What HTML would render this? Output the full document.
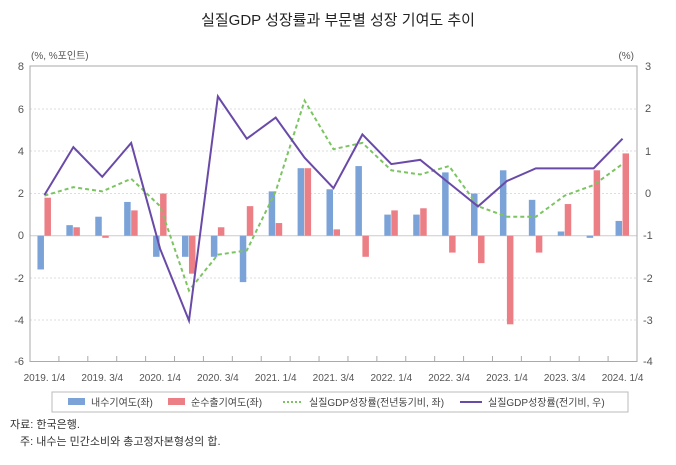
<!DOCTYPE html>
<html><head><meta charset="utf-8"><style>
body{margin:0;background:#fff;}
svg text{font-family:"Liberation Sans","Noto Sans CJK KR",sans-serif;}
</style></head><body>
<svg width="676" height="460" viewBox="0 0 676 460" xmlns="http://www.w3.org/2000/svg">
<text x="338" y="25" font-size="15" text-anchor="middle" fill="#222">실질GDP 성장률과 부문별 성장 기여도 추이</text>
<text x="31" y="59" font-size="10" fill="#555">(%, %포인트)</text>
<text x="634" y="59" font-size="10" fill="#555" text-anchor="end">(%)</text>
<g id="grid" stroke="#ddd" stroke-dasharray="2,2" stroke-width="1">
<line x1="30" x2="637" y1="109" y2="109"/><line x1="30" x2="637" y1="151" y2="151"/><line x1="30" x2="637" y1="193.5" y2="193.5"/>
<line x1="30" x2="637" y1="278" y2="278"/><line x1="30" x2="637" y1="320" y2="320"/>
</g>
<line x1="30" x2="637" y1="235.7" y2="235.7" stroke="#ccc"/>
<rect x="30" y="66" width="607" height="295.5" fill="none" stroke="#aaa"/>
<g font-size="11" fill="#555" text-anchor="end">
<text x="24" y="70">8</text><text x="24" y="113">6</text><text x="24" y="155">4</text><text x="24" y="197">2</text><text x="24" y="239">0</text><text x="24" y="282">-2</text><text x="24" y="324">-4</text><text x="24" y="365">-6</text>
</g>
<g font-size="11" fill="#555">
<text x="645" y="70">3</text><text x="645" y="112">2</text><text x="645" y="155">1</text><text x="645" y="197">0</text><text x="643" y="239">-1</text><text x="643" y="282">-2</text><text x="643" y="324">-3</text><text x="643" y="365">-4</text>
</g>
<g id="ticks" stroke="#aaa"></g>
<g id="bars"></g>
<polyline id="g" fill="none" stroke="#7cc462" stroke-width="2" stroke-dasharray="4,3"/>
<polyline id="p" fill="none" stroke="#6a4aa8" stroke-width="2"/>
<g id="xl" font-size="10" fill="#555" text-anchor="middle"></g>
<rect x="52" y="392" width="576" height="20" fill="#fff" stroke="#bbb"/>
<g font-size="10" fill="#444">
<rect x="68" y="398" width="17" height="7" fill="#7ba3d8"/><text x="91" y="406">내수기여도(좌)</text>
<rect x="168" y="398" width="17" height="7" fill="#ec7f86"/><text x="191" y="406">순수출기여도(좌)</text>
<line x1="283" x2="303" y1="402" y2="402" stroke="#7cc462" stroke-width="2" stroke-dasharray="2,2"/><text x="309" y="406">실질GDP성장률(전년동기비, 좌)</text>
<line x1="460" x2="482" y1="402" y2="402" stroke="#6a4aa8" stroke-width="2"/><text x="488" y="406">실질GDP성장률(전기비, 우)</text>
</g>
<text x="10" y="428" font-size="11" fill="#333">자료: 한국은행.</text>
<text x="20" y="445" font-size="11" fill="#333">주: 내수는 민간소비와 총고정자본형성의 합.</text>
<script>
var B=[-1.6,0.5,0.9,1.6,-1.0,-1.0,-1.0,-2.2,2.1,3.2,2.2,3.3,1.0,1.0,3.0,2.0,3.1,1.7,0.2,-0.1,0.7];
var R=[1.8,0.4,-0.1,1.2,2.0,-1.8,0.4,1.4,0.6,3.2,0.3,-1.0,1.2,1.3,-0.8,-1.3,-4.2,-0.8,1.5,3.1,3.9];
var G=[1.9,2.3,2.1,2.7,1.4,-2.6,-0.9,-0.7,2.1,6.4,4.1,4.4,3.1,2.9,3.3,1.4,0.9,0.9,1.9,2.4,3.4];
var P=[-0.03,1.1,0.4,1.2,-1.3,-3.0,2.3,1.3,1.8,0.85,0.13,1.4,0.7,0.8,0.25,-0.3,0.3,0.6,0.6,0.6,1.3];
var ns="http://www.w3.org/2000/svg",w=607/21;
function yl(v){return 235.7-v*21.1;}function yr(v){return 193.7-v*42.3;}
var bars=document.getElementById('bars'),tk=document.getElementById('ticks'),xl=document.getElementById('xl');
function el(t,a,p){var e=document.createElementNS(ns,t);for(var k in a)e.setAttribute(k,a[k]);p.appendChild(e);return e;}
var gp=[],pp=[];
for(var i=0;i<21;i++){var c=30+w/2+i*w;
 var y0=yl(0),yb=yl(B[i]),yr2=yl(R[i]);
 el('rect',{x:c-7,y:Math.min(y0,yb),width:6.5,height:Math.abs(yb-y0),fill:'#7ba3d8'},bars);
 el('rect',{x:c,y:Math.min(y0,yr2),width:6.5,height:Math.abs(yr2-y0),fill:'#ec7f86'},bars);
 gp.push(c+','+yl(G[i]));pp.push(c+','+yr(P[i]));
 if(i>0)el('line',{x1:30+i*w,x2:30+i*w,y1:356,y2:361.5},tk);
 if(i%2==0){var t=el('text',{x:c,y:381},xl);t.textContent=(2019+i/4|0)+'. '+(i%4==0?'1/4':'3/4');}
}
document.getElementById('g').setAttribute('points',gp.join(' '));
document.getElementById('p').setAttribute('points',pp.join(' '));
</script>
</svg>
</body></html>
